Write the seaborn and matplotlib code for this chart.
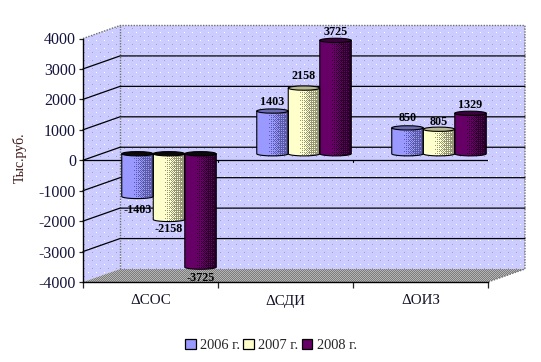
import numpy as np
import pandas as pd
import seaborn as sns
import matplotlib.pyplot as plt
from matplotlib.colors import to_rgb
from matplotlib.patches import Polygon, Ellipse, PathPatch, Patch
from matplotlib.path import Path

# Data
categories = ["ΔСОС", "ΔСДИ", "ΔОИЗ"]
years = ["2006 г.", "2007 г.", "2008 г."]
values_2006 = [-1403, 1403, 850]
values_2007 = [-2158, 2158, 805]
values_2008 = [-3725, 3725, 1329]
y_ticks = [-4000, -3000, -2000, -1000, 0, 1000, 2000, 3000, 4000]

df = pd.DataFrame({
    "cat": categories * 3,
    "year": np.repeat(years, 3),
    "val": values_2006 + values_2007 + values_2008,
})

colors = ["#9999ff", "#ffffcc", "#660066"]
dark = ["#5c5ca6", "#96967a", "#2a002a"]
caps = ["#6a6ab4", "#b8b890", "#3c003c"]
label_pad = [[14, 9, 10], [10, 12, 7], [11, 8, 8]]

sns.set_style("white")
plt.rcParams["font.family"] = ["Liberation Serif", "DejaVu Sans"]
plt.rcParams["axes.unicode_minus"] = False

W, H = 541, 362
fig = plt.figure(figsize=(W / 100, H / 100), dpi=100, facecolor="white")

# pixel textures for walls and floor
ax_bg = fig.add_axes([0, 0, 1, 1])
ax_bg.axis("off")
yy, xx = np.mgrid[0:H, 0:W]
tex_wall = np.ones((H, W, 3)) * np.array(to_rgb("#ccccff"))
tex_wall[(xx % 8 == 0) & (yy % 8 == 0)] = to_rgb("#ffffff")
tex_wall[(xx % 8 == 4) & (yy % 8 == 4)] = to_rgb("#9c9cdc")
tex_floor = np.ones((H, W, 3)) * np.array(to_rgb("#7c7c7c"))
tex_floor[(xx + yy) % 2 == 0] = to_rgb("#b4b4b4")

# front plane of the box, and a copy moved half the depth back for the bars
ax = fig.add_axes([83 / W, 1 - 282 / H, 405 / W, 243.5 / H], facecolor="none")
ax_bars = fig.add_axes([101.5 / W, 1 - 275.5 / H, 405 / W, 243.5 / H], facecolor="none")

ax.set_xlim(-0.5, 2.5)
ax.set_ylim(-4000, 4000)
dx, dy = 37 / 135, 13 / 30.44 * 1000  # box depth in data units

# walls and floor
l, r, b, t = -0.5, 2.5, -4000, 4000
wall_shape = Polygon([(l, b), (l + dx, b + dy), (r + dx, b + dy), (r + dx, t + dy),
                      (l + dx, t + dy), (l, t)], transform=ax.transData)
floor_shape = Polygon([(l, b), (r, b), (r + dx, b + dy), (l + dx, b + dy)], transform=ax.transData)
im = ax_bg.imshow(tex_wall, interpolation="nearest", extent=[0, W, H, 0], aspect="auto")
im.set_clip_path(wall_shape)
im = ax_bg.imshow(tex_floor, interpolation="nearest", extent=[0, W, H, 0], aspect="auto")
im.set_clip_path(floor_shape)

ax.plot([l, l + dx, r + dx, r + dx, r], [t, t + dy, t + dy, b + dy, b],
        color="#707070", lw=1.0, ls=(0, (1, 1)), clip_on=False, zorder=2)
ax.plot([l + dx, l + dx], [b + dy, t + dy], color="#707070", lw=1.0, ls=(0, (1, 1)),
        clip_on=False, zorder=2)

# grid on back and side wall
for v in y_ticks[1:-1]:
    ax.plot([l, l + dx, r + dx], [v, v + dy, v + dy], color="black", lw=0.9,
            clip_on=False, zorder=2)
ax.plot([l, r], [0, 0], color="black", lw=0.9, zorder=3)
for x in [0.5, 1.5, 2.5]:
    ax.plot([x, x], [0, -70], color="black", lw=0.8, zorder=3)

# axes
sns.despine(ax=ax, top=True, right=True)
for s in ["left", "bottom"]:
    ax.spines[s].set_color("black")
    ax.spines[s].set_linewidth(1.0)
ax.set_yticks(y_ticks)
ax.set_xticks([-0.5, 0.5, 1.5, 2.5])
ax.set_xticklabels([])
ax.set_xticks([0, 1, 2], categories, minor=True)
ax.tick_params(axis="y", left=True, length=3, width=0.9, pad=2, labelsize=11.5, labelcolor="#14143c")
ax.tick_params(axis="x", which="major", bottom=True, length=4, width=0.9)
ax.tick_params(axis="x", which="minor", bottom=False, length=0, pad=9, labelsize=10.8, labelcolor="#141428")
ax.set_ylabel("Тыс.руб.", fontsize=10, color="#3c1414")
ax.yaxis.set_label_coords((27 - 83) / 405, (282 - 158) / 243.5)

# bars
sns.barplot(data=df, x="cat", y="val", hue="year", palette=colors, saturation=1,
            width=0.7, gap=0, legend=False, ax=ax_bars, linewidth=0, zorder=2)
ax_bars.axis("off")

# cylinder shading on top of each bar, dithered like the original
bayer = np.array([[0, 8, 2, 10], [12, 4, 14, 6], [3, 11, 1, 9], [15, 7, 13, 5]]) / 16 + 1 / 32
h_ell = 140
px_per_unit = 243.5 / 8000
for i, cont in enumerate(ax_bars.containers):
    c0, c1 = np.array(to_rgb(colors[i])), np.array(to_rgb(dark[i]))
    for j, bar in enumerate(cont):
        x0, w = bar.get_x(), bar.get_width()
        val = int(bar.get_height())
        xc = x0 + w / 2
        low, high = min(val, 0), max(val, 0)

        a = np.linspace(np.pi, 0, 40)
        arc = np.c_[xc + w / 2 * np.cos(a), low - h_ell / 2 * np.sin(a)]
        verts = np.vstack([[x0, high], arc, [x0 + w, high], [x0, high]])
        outline = PathPatch(Path(verts), facecolor="none", edgecolor="black", lw=0.8, zorder=4)
        ax_bars.add_patch(outline)

        nx = 32
        ny = int((high - low + h_ell) * px_per_unit) + 1
        shade = np.clip((np.linspace(0, 1, nx) - 0.3) / 0.7, 0, 1) ** 0.8
        py, px = np.mgrid[0:ny, 0:nx]
        mask = shade[px] > bayer[py % 4, px % 4]
        img = np.where(mask[..., None], c1, c0)
        im = ax_bars.imshow(img, extent=[x0, x0 + w, low - h_ell, high], aspect="auto",
                            interpolation="nearest", zorder=3)
        im.set_clip_path(outline)

        cap = caps[i] if val > 0 else "#0a0a0a"
        ax_bars.add_patch(Ellipse((xc, high), w, h_ell, facecolor=cap, edgecolor="black",
                                  lw=0.8, zorder=5))
        # value labels
        pad = label_pad[i][j]
        ax_bars.annotate(str(val), (xc, val), xytext=(0, pad if val > 0 else -pad),
                         textcoords="offset pixels", ha="center", va="center",
                         fontsize=8.7, fontweight="bold", color="black", zorder=6,
                         annotation_clip=False)
ax_bars.set_xlim(-0.5, 2.5)
ax_bars.set_ylim(-4000, 4000)

# legend
handles = [Patch(facecolor=c, edgecolor="black", lw=0.9) for c in colors]
fig.legend(handles, years, ncols=3, frameon=False, loc="center", fontsize=10.4,
           bbox_to_anchor=(271 / W, 1 - 345.5 / H), handlelength=0.75, handleheight=0.75,
           handletextpad=0.3, columnspacing=0.2, borderpad=0)

fig.savefig("out.png", dpi=100)
